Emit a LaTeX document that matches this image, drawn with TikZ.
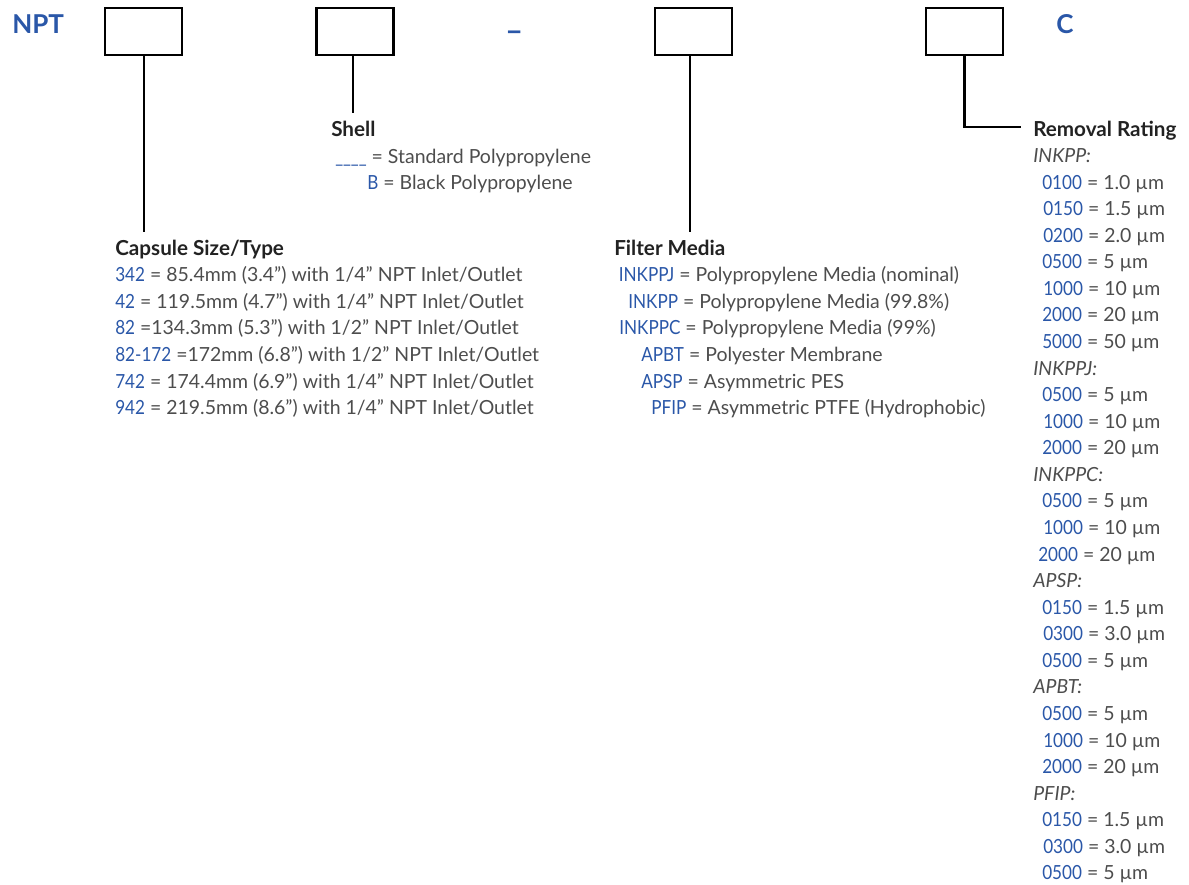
\documentclass[tikz,border=0pt]{standalone}
\usepackage{fontspec}
\setmainfont{Lato}
\newfontfamily\condensed{Lato}[FakeStretch=0.88]
\usetikzlibrary{positioning}
\definecolor{codeblue}{HTML}{2A57A8}
\definecolor{textgray}{HTML}{4D4D4D}
\definecolor{headdark}{HTML}{222222}
\newcommand{\pc}[1]{{\condensed\color{codeblue}#1}}
\tikzset{
  slot/.style={draw, line width=1.8pt, minimum width=57.5pt, minimum height=35pt, inner sep=0pt},
  lead/.style={line width=1.8pt},
  codeletter/.style={anchor=base west, inner sep=0pt, text=codeblue, font=\bfseries\fontsize{19.5}{24}\selectfont},
  heading/.style={anchor=base west, inner sep=0pt, text=headdark, font=\bfseries\fontsize{15.5}{18}\selectfont},
  optline/.style={anchor=base west, inner sep=0pt, text=textgray, font=\fontsize{14.6}{17}\selectfont}
}

\begin{document}
\begin{tikzpicture}[x=0.75pt, y=-0.75pt]
  \useasboundingbox (0,0) rectangle (1189,885);

  % code boxes
  \node[codeletter] (npt) at (12,33.5) {NPT};
  \node[slot] (size) at (143.5,31.5) {};
  \node[slot] (shellbox) at (355,31.5) {};
  \node[codeletter, font=\bfseries\fontsize{23}{24}\selectfont] (dash) at (505,41) {–};
  \node[slot] (media) at (693.5,31.5) {};
  \node[slot] (rate) at (964.5,31.5) {};
  \node[codeletter] (suffix) at (1056,33.5) {C};

  % shell
  \node[heading] (shell) at (331,136.5) {Shell};
  \node[optline] (shell1) at (335,163) {\pc{\_\_\_\_} = Standard Polypropylene};
  \node[optline] (shell2) at (367,189.5) {\pc{B} = Black Polypropylene};
  \coordinate (shellend) at (353,113);
  \draw[lead] (shellbox.south -| shellend) -- (shellend);

  % capsule size
  \node[heading] (capsule) at (115,255) {Capsule Size/Type};
  \node[optline] (cap1) at (115,281.3) {\pc{342} = 85.4mm (3.4”) with 1/4" NPT Inlet/Outlet};
  \node[optline] (cap2) at (115,308) {\pc{42} = 119.5mm (4.7”) with 1/4" NPT Inlet/Outlet};
  \node[optline] (cap3) at (115,334.7) {\pc{82} =134.3mm (5.3”) with 1/2" NPT Inlet/Outlet};
  \node[optline] (cap4) at (115,361.3) {\pc{82-172} =172mm (6.8”) with 1/2" NPT Inlet/Outlet};
  \node[optline] (cap5) at (115,388) {\pc{742} = 174.4mm (6.9”) with 1/4" NPT Inlet/Outlet};
  \node[optline] (cap6) at (115,414.7) {\pc{942} = 219.5mm (8.6”) with 1/4" NPT Inlet/Outlet};
  \coordinate (sizeend) at (144,232);
  \draw[lead] (size.south -| sizeend) -- (sizeend);

  % filter media
  \node[heading] (filter) at (614,255) {Filter Media};
  \node[optline] (med1) at (618.5,281.3) {\pc{INKPPJ} = Polypropylene Media (nominal)};
  \node[optline] (med2) at (628,308) {\pc{INKPP} = Polypropylene Media (99.8\%)};
  \node[optline] (med3) at (619,334.7) {\pc{INKPPC} = Polypropylene Media (99\%)};
  \node[optline] (med4) at (641,361.3) {\pc{APBT} = Polyester Membrane};
  \node[optline] (med5) at (641,388) {\pc{APSP} = Asymmetric PES};
  \node[optline] (med6) at (651,414.7) {\pc{PFIP} = Asymmetric PTFE (Hydrophobic)};
  \coordinate (mediaend) at (690,232);
  \draw[lead] (media.south -| mediaend) -- (mediaend);

  % removal rating
  \node[heading] (rating) at (1033,136) {Removal Rating};
  \coordinate (rateend) at (1021,127);
  \draw[lead] (rate.south) |- (rateend);
  \foreach \x/\txt [count=\i] in {
      1033/{\textit{INKPP:}}, 1042/{\pc{0100} = 1.0 µm}, 1043/{\pc{0150} = 1.5 µm},
      1043/{\pc{0200} = 2.0 µm}, 1042/{\pc{0500} = 5 µm}, 1043/{\pc{1000} = 10 µm},
      1042/{\pc{2000} = 20 µm}, 1042/{\pc{5000} = 50 µm},
      1033/{\textit{INKPPJ:}}, 1042/{\pc{0500} = 5 µm}, 1043/{\pc{1000} = 10 µm},
      1042/{\pc{2000} = 20 µm},
      1033/{\textit{INKPPC:}}, 1042/{\pc{0500} = 5 µm}, 1043/{\pc{1000} = 10 µm},
      1038/{\pc{2000} = 20 µm},
      1033/{\textit{APSP:}}, 1042/{\pc{0150} = 1.5 µm}, 1043/{\pc{0300} = 3.0 µm},
      1042/{\pc{0500} = 5 µm},
      1033/{\textit{APBT:}}, 1042/{\pc{0500} = 5 µm}, 1043/{\pc{1000} = 10 µm},
      1042/{\pc{2000} = 20 µm},
      1033/{\textit{PFIP:}}, 1042/{\pc{0150} = 1.5 µm}, 1043/{\pc{0300} = 3.0 µm},
      1042/{\pc{0500} = 5 µm}}
    \node[optline] (rr\i) at (\x,{136+\i*26.57}) {\txt};
\end{tikzpicture}
\end{document}
